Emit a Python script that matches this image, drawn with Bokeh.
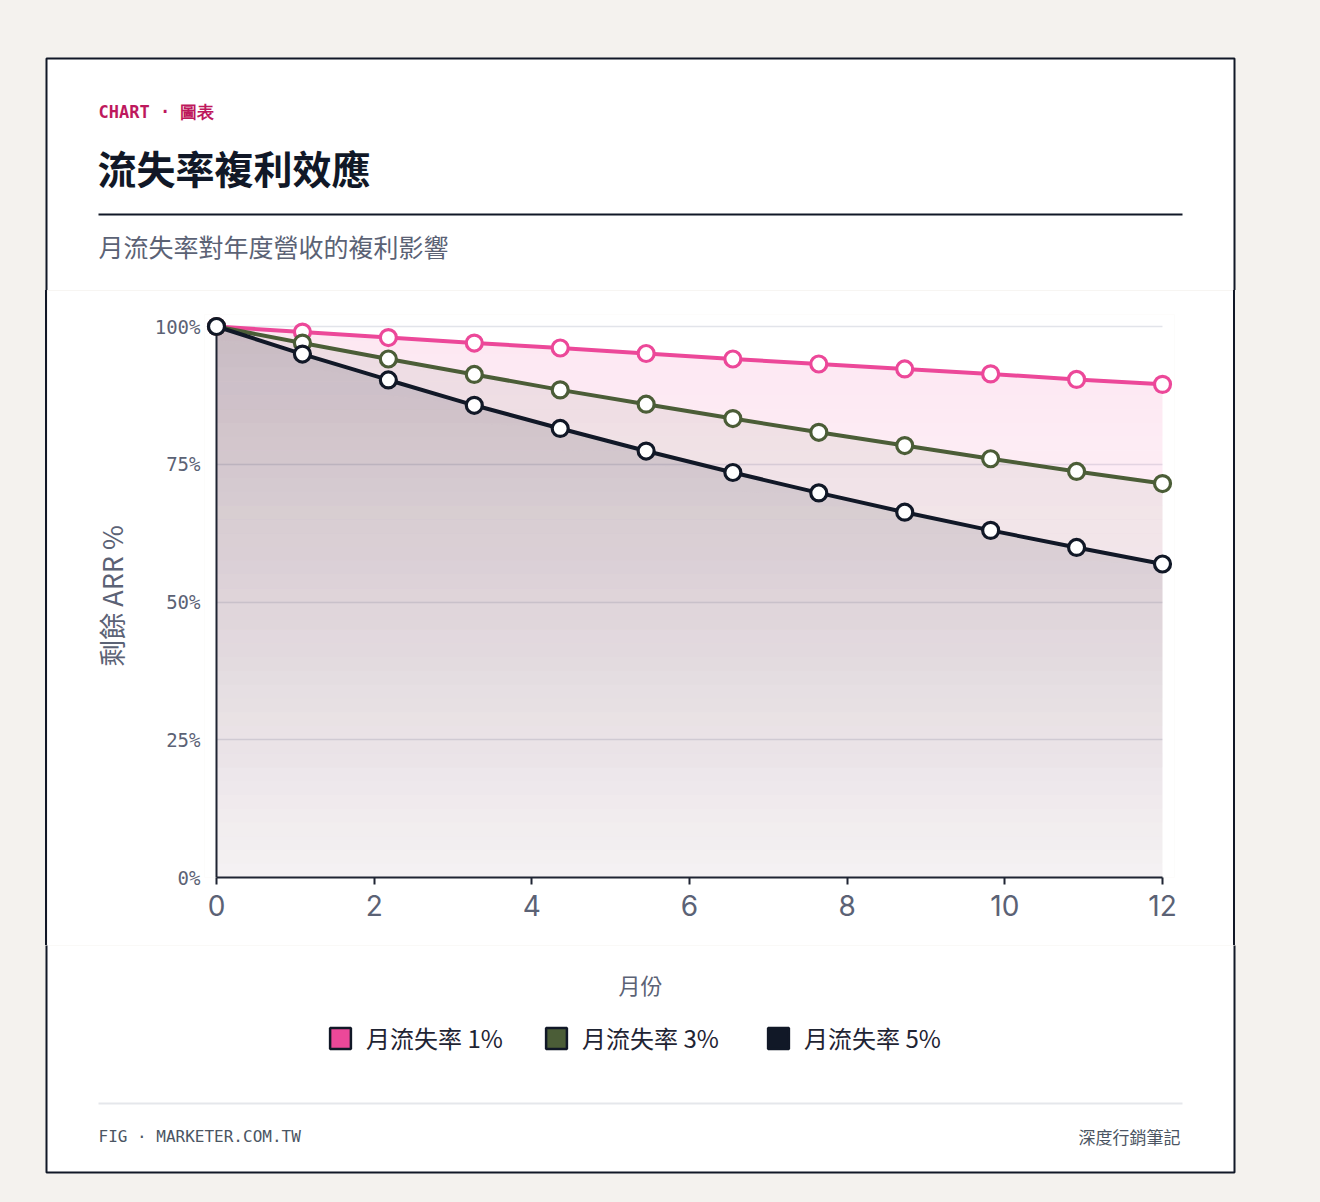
import numpy as np
from bokeh.plotting import figure
from bokeh.layouts import column, row
from bokeh.models import (Label, BoxAnnotation, Legend, LegendItem, FixedTicker,
                          PrintfTickFormatter, Range1d)
from bokeh.embed import file_html
from bokeh.resources import INLINE

# ---------------- data ----------------
months = [0, 1.09, 2.18, 3.27, 4.36, 5.45, 6.55, 7.64, 8.73, 9.82, 10.91, 12]
churn_1 = [100, 99.0, 98.0, 97.0, 96.1, 95.1, 94.1, 93.2, 92.3, 91.4, 90.4, 89.5]
churn_3 = [100, 97.0, 94.1, 91.3, 88.5, 85.9, 83.3, 80.8, 78.4, 76.0, 73.7, 71.5]
churn_5 = [100, 95.0, 90.3, 85.7, 81.5, 77.4, 73.5, 69.8, 66.3, 63.0, 59.9, 56.9]
series_names = ["月流失率 1%", "月流失率 3%", "月流失率 5%"]
x_ticks = [0, 2, 4, 6, 8, 10, 12]
y_ticks = [0, 25, 50, 75, 100]

colors = ["#ec4899", "#4b5d37", "#111827"]
fill_top = [0.13, 0.09, 0.16]
fill_bottom = [0.025, 0.015, 0.025]

PAGE = "#f4f2ee"
GRAY = "#5b6275"
DARK = "#111827"
CJK = "Noto Sans CJK TC"
MONO = "DejaVu Sans Mono"

W, H = 1320, 1202
TOP_H = 290          # header band: page y 0..290
CHART_H = 655        # chart band: page y 290..945
BOT_H = H - TOP_H - CHART_H
CARD_L, CARD_R, CARD_T, CARD_B = 46, 1234, 58, 1172


def no_align(f):
    try:
        f.frame_align = False
    except Exception:
        pass


def blank(w, h, x0, y0):
    """Figure whose frame is the whole canvas, data units = page pixels."""
    f = figure(width=w, height=h, x_range=Range1d(x0, x0 + w),
               y_range=Range1d(y0 + h, y0),
               output_backend="svg", toolbar_location=None, min_border=0,
               x_axis_location=None, y_axis_location=None,
               background_fill_color=PAGE, border_fill_color=PAGE,
               outline_line_color=None)
    f.grid.visible = False
    no_align(f)
    return f


def add_label(f, text, px, py, size, color, font=CJK, style="normal", align="left"):
    f.add_layout(Label(x=px, y=py, text=text, text_font=font, text_font_size=size,
                       text_color=color, text_font_style=style,
                       text_align=align, text_baseline="middle"))


def box(f, l, r, t, b, fill, line=None, lw=0, level="underlay"):
    f.add_layout(BoxAnnotation(left=l, right=r, top=t, bottom=b,
                               fill_color=fill, fill_alpha=1,
                               line_color=line, line_alpha=1, line_width=lw,
                               level=level))


# ---------------- header ----------------
top = blank(W, TOP_H, 0, 0)
box(top, CARD_L, CARD_R, CARD_T, TOP_H + 20, "#ffffff", DARK, 2)
box(top, 98, 1182, 213, 215, DARK)
add_label(top, "CHART · 圖表", 98, 111, "17px", "#be185d", font=MONO, style="bold")
add_label(top, "流失率複利效應", 97, 166, "39px", DARK, style="bold")
add_label(top, "月流失率對年度營收的複利影響", 98, 245, "25px", GRAY)

# ---------------- chart ----------------
chart_x0 = CARD_L + 1
chart_w = (CARD_R - 1) - chart_x0
p = figure(width=chart_w, height=CHART_H,
           x_range=Range1d(-0.1522, 12.1522), y_range=Range1d(0, 102.18),
           output_backend="svg", toolbar_location=None,
           min_border_left=204 - chart_x0, min_border_right=(CARD_R - 1) - 1174,
           min_border_top=314 - TOP_H, min_border_bottom=(TOP_H + CHART_H) - 877,
           border_fill_color="#ffffff", background_fill_color="#ffffff",
           outline_line_color=None)
no_align(p)
try:
    p.margin = (0, 0, 0, chart_x0)
except Exception:
    pass
p.styles = {"margin-left": f"{chart_x0}px",
            "box-shadow": f"-2px 0 0 0 {DARK}, 2px 0 0 0 {DARK}"}

p.xgrid.visible = False
p.ygrid.ticker = FixedTicker(ticks=y_ticks)
try:
    p.ygrid.cross_bounds = (x_ticks[0], x_ticks[-1])
except Exception:
    pass
p.ygrid.grid_line_color = "#e2e4ea"
p.ygrid.grid_line_width = 1.5

xa = p.xaxis[0]
xa.ticker = FixedTicker(ticks=x_ticks)
xa.bounds = (x_ticks[0], x_ticks[-1])
xa.axis_line_color = "#1f2433"
xa.axis_line_width = 2
xa.major_tick_line_color = "#1f2433"
xa.major_tick_line_width = 2
xa.major_tick_out = 7
xa.major_tick_in = 0
xa.minor_tick_line_color = None
xa.major_label_text_font = "Inter"
xa.major_label_text_font_size = "28px"
xa.major_label_text_color = GRAY
xa.major_label_standoff = 10

ya = p.yaxis[0]
ya.ticker = FixedTicker(ticks=y_ticks)
ya.formatter = PrintfTickFormatter(format="%d%%")
ya.axis_line_color = None
ya.major_tick_line_color = None
ya.major_tick_out = 0
ya.major_tick_in = 0
ya.minor_tick_line_color = None
ya.major_label_text_font = MONO
ya.major_label_text_font_size = "19px"
ya.major_label_text_color = GRAY
ya.major_label_standoff = 4
ya.axis_label = "剩餘 ARR %"
ya.axis_label_text_font = CJK
ya.axis_label_text_font_style = "normal"
ya.axis_label_text_font_size = "27px"
ya.axis_label_text_color = GRAY
ya.axis_label_standoff = 21

# gradient areas: disjoint horizontal bands clipped to each series' line,
# opacity growing with height
x_arr = np.array(months)
N_BANDS = 40
edges = [y_ticks[-1] * k / N_BANDS for k in range(N_BANDS + 1)]
for vals, c, at, ab in zip([churn_1, churn_3, churn_5], colors, fill_top, fill_bottom):
    v = np.array(vals)
    for k in range(N_BANDS):
        lo, hi = edges[k], edges[k + 1]
        alpha = ab + (at - ab) * (0.5 * (lo + hi) / y_ticks[-1])
        p.varea(x=x_arr, y1=np.minimum(v, lo), y2=np.minimum(v, hi),
                fill_color=c, fill_alpha=alpha)

# vertical axis line at x = 0
p.segment(x0=[x_ticks[0]], y0=[y_ticks[0]], x1=[x_ticks[0]], y1=[y_ticks[-1]],
          line_color="#1f2433", line_width=2)

for vals, c in zip([churn_1, churn_3, churn_5], colors):
    p.line(months, vals, line_color=c, line_width=4)
    p.scatter(months, vals, size=16, marker="circle", fill_color="#ffffff",
              line_color=c, line_width=3.2)

# ---------------- bottom band ----------------
y0b = TOP_H + CHART_H
bot = blank(W, BOT_H, 0, y0b)
box(bot, CARD_L, CARD_R, y0b - 20, CARD_B, "#ffffff", DARK, 2)
box(bot, 98, 1182, 1102, 1104, "#e5e7eb")
add_label(bot, "月份", 640, 983, "22px", GRAY, align="center")
add_label(bot, "FIG · MARKETER.COM.TW", 98, 1136, "16px", "#4b5563", font=MONO)
add_label(bot, "深度行銷筆記", 1180, 1136, "17px", "#4b5563", align="right")

legend_x = [327, 543, 765]
for name, c, lx in zip(series_names, colors, legend_x):
    r = bot.quad(left=[np.nan], right=[np.nan], top=[np.nan], bottom=[np.nan],
                 fill_color=c, line_color=DARK, line_width=2.5)
    lg = Legend(items=[LegendItem(label=name, renderers=[r])],
                location=(lx, H - 1055), orientation="horizontal",
                padding=0, margin=0, spacing=0,
                glyph_width=26, glyph_height=26, label_height=26,
                label_standoff=13,
                label_text_font=CJK, label_text_font_size="24px",
                label_text_color="#1f2433", label_text_baseline="middle",
                border_line_color=None, background_fill_alpha=0)
    bot.add_layout(lg)

middle = row(p, styles={"background-color": PAGE})
layout = column(top, middle, bot, styles={"background-color": PAGE})
open("out.html", "w").write(file_html(layout, INLINE))
